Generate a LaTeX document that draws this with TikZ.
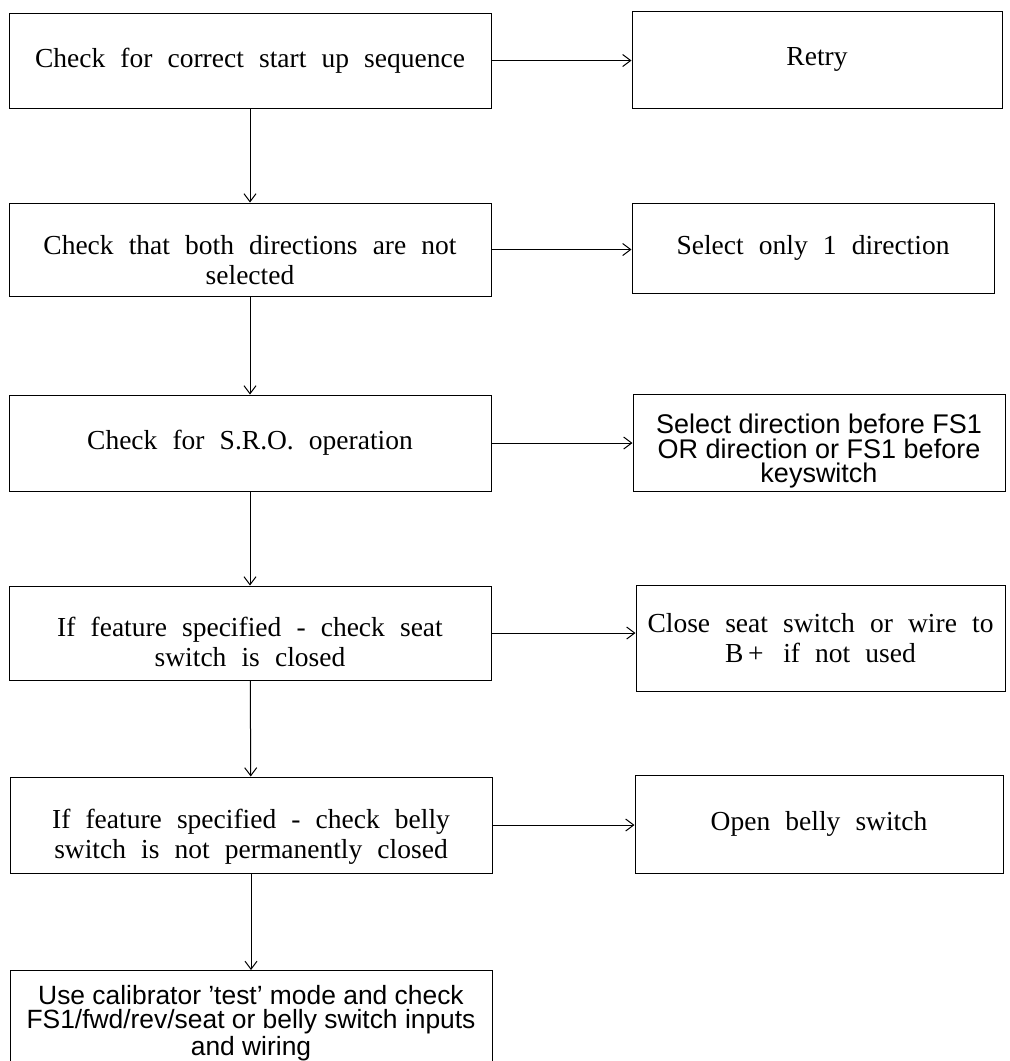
\documentclass[tikz,border=0pt]{standalone}
\usepackage{fontspec}
\setmainfont{Liberation Serif}
\setsansfont{Liberation Sans}
\usetikzlibrary{arrows.meta}
\newcommand\widespaces{\spaceskip 0.55em plus 0.1em\relax}
\newcommand\tallstrut[1]{\rule{0pt}{#1}}

\begin{document}
\begin{tikzpicture}
  [x=0.5pt,y=-0.5pt,line width=0.5pt,
   box/.style={draw,rectangle,align=center,inner sep=0pt,
     font=\fontsize{13.75}{15}\selectfont\widespaces},
   sbox/.style={box,font=\sffamily\fontsize{13.5}{12.3}\selectfont},
   >={Straight Barb[length=4pt,width=6pt]}]
  \useasboundingbox (0,0) rectangle (1009,1061);

  % checks
  \node (c1)[box,minimum width=241pt,minimum height=47.5pt] at (250,60.5) {Check for correct start up sequence};
  \node (c2)[box,minimum width=241pt,minimum height=46.5pt] at (250,249.5) {\tallstrut{20.4pt}Check that both directions are not\\selected};
  \node (c3)[box,minimum width=241pt,minimum height=48pt] at (250,443) {Check for S.R.O. operation};
  \node (c4)[box,minimum width=241pt,minimum height=47pt] at (250,633) {\tallstrut{18.9pt}If feature specified - check seat\\switch is closed};
  \node (c5)[box,minimum width=241pt,minimum height=48pt] at (251,825) {\tallstrut{21.5pt}If feature specified - check belly\\switch is not permanently closed};
  \node (c6)[sbox,font=\sffamily\fontsize{13.2}{12.2}\selectfont,anchor=north,minimum width=241pt] at (251,970) {\tallstrut{17pt}Use calibrator 'test' mode and check\\FS1/fwd/rev/seat or belly switch inputs\\and wiring};

  % remedies
  \node (r1)[box,minimum width=185pt,minimum height=48.5pt] at (817,59.5) {Retry};
  \node (r2)[box,minimum width=181pt,minimum height=45pt] at (813,248) {Select only 1 direction};
  \node (r3)[sbox,minimum width=186pt,minimum height=48.5pt] at (819,442.5) {\tallstrut{18.4pt}Select direction before FS1\\OR direction or FS1 before\\keyswitch};
  \node (r4)[box,minimum width=184.5pt,minimum height=53pt] at (820.5,638) {Close seat switch or wire to\\B\,+ \,if not used};
  \node (r5)[box,minimum width=184pt,minimum height=49pt] at (819,824) {Open belly switch};

  \foreach \from/\to in {c1/c2,c2/c3,c3/c4,c4/c5,c5/c6}
    \draw[->] (\from) -- (\to);
  \foreach \from/\to in {c1/r1,c2/r2,c3/r3,c4/r4,c5/r5}
    \draw[->] (\from) -- (\from -| \to.west);

\end{tikzpicture}
\end{document}
